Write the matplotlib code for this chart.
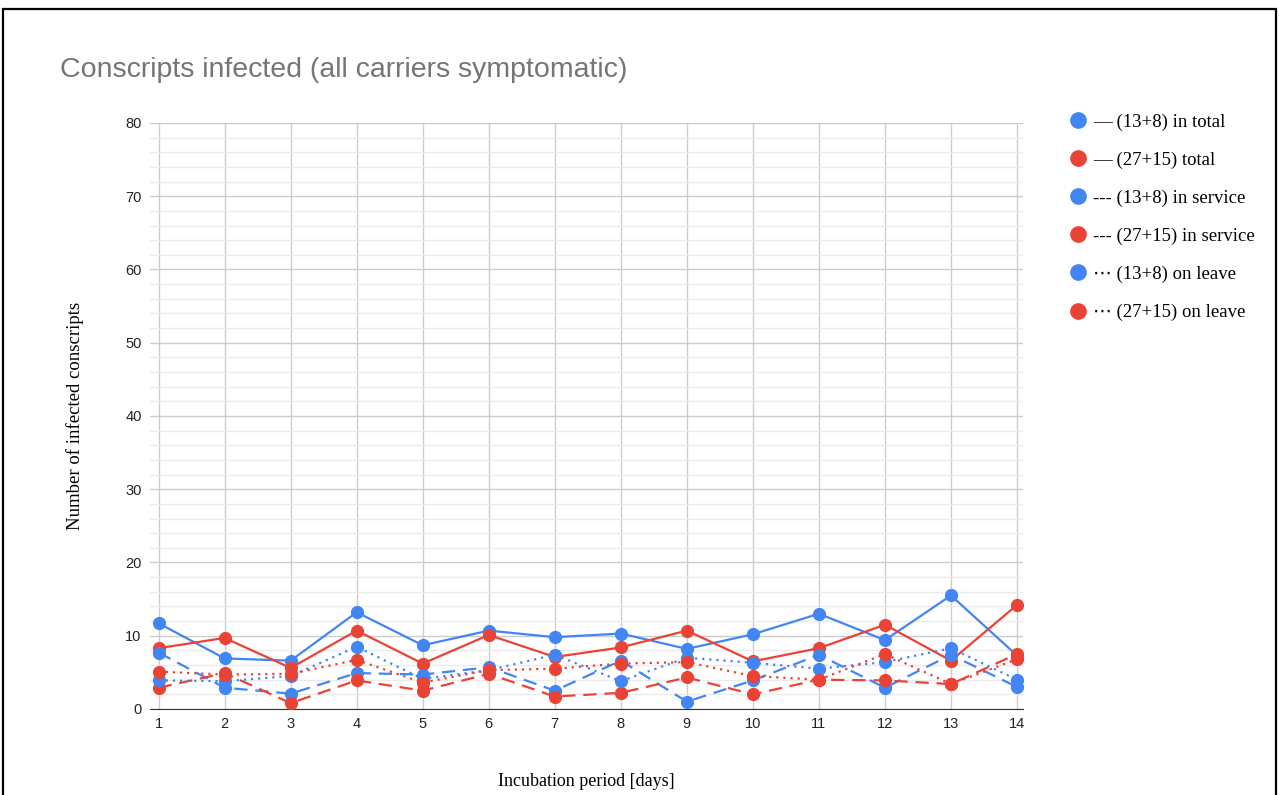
import matplotlib.pyplot as plt
from matplotlib.lines import Line2D
from matplotlib.patches import Rectangle

dias = list(range(1, 15))

azul_total = [11.7, 6.9, 6.6, 13.2, 8.7, 10.7, 9.8, 10.3, 8.2, 10.2, 13.0, 9.4, 15.5, 7.3]
rojo_total = [8.3, 9.7, 5.6, 10.7, 6.2, 10.1, 7.1, 8.4, 10.7, 6.5, 8.3, 11.5, 6.6, 14.2]
azul_servicio = [7.7, 2.9, 2.1, 4.9, 4.7, 5.7, 2.5, 6.6, 1.0, 3.9, 7.4, 2.9, 7.4, 3.0]
rojo_servicio = [2.9, 4.9, 0.8, 3.9, 2.5, 4.8, 1.7, 2.2, 4.3, 2.0, 4.0, 3.9, 3.4, 7.5]
azul_permiso = [3.9, 3.8, 4.5, 8.5, 4.1, 5.3, 7.4, 3.8, 7.0, 6.3, 5.5, 6.4, 8.3, 4.0]
rojo_permiso = [5.1, 4.7, 4.8, 6.7, 3.6, 5.3, 5.5, 6.2, 6.4, 4.5, 4.0, 7.5, 3.4, 6.8]

etiquetas = ["— (13+8) in total", "— (27+15) total",
             "--- (13+8) in service", "--- (27+15) in service",
             "⋯ (13+8) on leave", "⋯ (27+15) on leave"]

AZUL = "#4285F4"
ROJO = "#EA4335"
serif = ["Liberation Serif", "DejaVu Serif", "DejaVu Sans"]

fig = plt.figure(figsize=(12.79, 7.95), dpi=100)
ax = fig.add_axes([0.1173, 0.1082, 0.6825, 0.7371])

series = [
    (azul_total, AZUL, "-"),
    (rojo_total, ROJO, "-"),
    (azul_servicio, AZUL, (0, (6, 3.5))),
    (rojo_servicio, ROJO, (0, (6, 3.5))),
    (azul_permiso, AZUL, (0, (1, 2.2))),
    (rojo_permiso, ROJO, (0, (1, 2.2))),
]
for valores, color, estilo in series:
    ax.plot(dias, valores, color=color, linestyle=estilo, linewidth=1.6,
            marker="o", markersize=8.5, zorder=3, clip_on=False)

ax.set_xlim(0.87, 14.09)
ax.set_ylim(0, 80)
ax.set_xticks(dias)
ax.set_yticks(range(0, 81, 10))
ax.set_yticks(range(0, 81, 2), minor=True)
ax.grid(which="major", color="#cccccc", linewidth=1)
ax.grid(which="minor", axis="y", color="#ebebeb", linewidth=1)
ax.set_axisbelow(True)
for lado in ["top", "right", "left"]:
    ax.spines[lado].set_visible(False)
ax.spines["bottom"].set_color("#333333")
ax.tick_params(which="both", length=0, labelsize=10.5, labelcolor="#222222",
               pad=6)
for t in ax.get_xticklabels() + ax.get_yticklabels():
    t.set_fontfamily("Liberation Sans")

ax.set_xlabel("Incubation period [days]", family=serif, fontsize=13,
              labelpad=30)
ax.set_ylabel("Number of infected conscripts", family=serif, fontsize=13.5,
              labelpad=30)

fig.text(0.047, 0.912, "Conscripts infected (all carriers symptomatic)",
         family="Liberation Sans", fontsize=20.5, color="#757575",
         ha="left", va="center")

manijas = [Line2D([], [], color=c, marker="o", linestyle="", markersize=11)
           for _, c, _ in series]
fig.legend(manijas, etiquetas, loc="upper left",
           bbox_to_anchor=(0.830, 0.867), frameon=False,
           prop={"family": serif, "size": 13.5}, labelspacing=1.11,
           handletextpad=0.3, handlelength=1.0, borderaxespad=0)

# marco negro de la captura
fig.add_artist(Rectangle((3 / 1279, -0.01), 1273 / 1279, 1 - 9 / 795 + 0.01,
                         transform=fig.transFigure, fill=False,
                         edgecolor="black", linewidth=1.6))

fig.savefig("out.png", dpi=100)
